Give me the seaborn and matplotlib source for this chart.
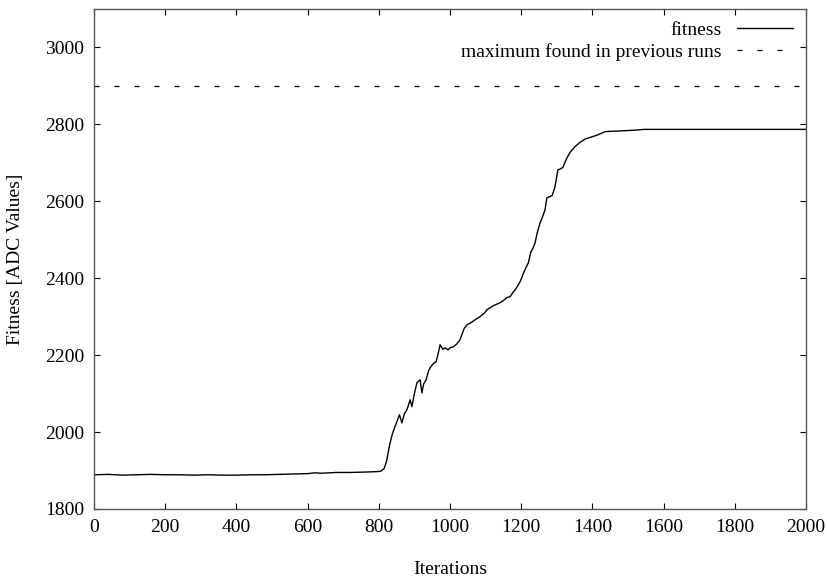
import numpy as np
import pandas as pd
import seaborn as sns
import matplotlib
matplotlib.use('Agg')
import matplotlib.pyplot as plt

# values
iterations = [0, 40, 80, 120, 160, 200, 240, 280, 320, 360, 400, 440, 480, 520,
              560, 600, 620, 640, 680, 720, 760, 790, 805, 815, 822, 830, 838,
              845, 852, 858, 865, 872, 879, 884, 888, 893, 900, 907, 916, 921,
              926, 933, 940, 944, 953, 961, 967, 972, 980, 986, 995, 1000, 1010,
              1020, 1028, 1040, 1048, 1060, 1072, 1084, 1095, 1104, 1112, 1125,
              1140, 1150, 1160, 1169, 1176, 1183, 1190, 1197, 1205, 1212, 1220,
              1227, 1233, 1239, 1245, 1253, 1260, 1267, 1272, 1280, 1287, 1295,
              1303, 1310, 1317, 1327, 1337, 1351, 1365, 1380, 1393, 1410, 1421,
              1435, 1450, 1478, 1520, 1545, 1600, 1800, 2000]
fitness = [1889, 1890, 1888, 1889, 1890, 1889, 1889, 1888, 1889, 1888, 1888,
           1889, 1889, 1890, 1891, 1892, 1894, 1893, 1895, 1895, 1896, 1897,
           1898, 1905, 1925, 1965, 1995, 2013, 2030, 2045, 2024, 2048, 2058,
           2072, 2084, 2066, 2100, 2128, 2136, 2102, 2125, 2136, 2160, 2167,
           2178, 2183, 2205, 2227, 2215, 2219, 2214, 2219, 2222, 2230, 2240,
           2270, 2279, 2285, 2293, 2300, 2308, 2318, 2323, 2330, 2336, 2342,
           2350, 2352, 2362, 2370, 2380, 2391, 2410, 2425, 2440, 2468, 2478,
           2492, 2518, 2544, 2560, 2578, 2609, 2612, 2615, 2638, 2682, 2684,
           2688, 2710, 2727, 2742, 2753, 2762, 2766, 2771, 2775, 2781, 2782,
           2783, 2785, 2787, 2787, 2787, 2787]
previous_max = 2900
x_ticks = [0, 200, 400, 600, 800, 1000, 1200, 1400, 1600, 1800, 2000]
y_ticks = [1800, 2000, 2200, 2400, 2600, 2800, 3000]

sns.set_theme(style='ticks')
plt.rcParams['font.family'] = ['Liberation Serif', 'DejaVu Serif']
plt.rcParams['xtick.direction'] = 'in'
plt.rcParams['ytick.direction'] = 'in'
plt.rcParams['text.color'] = 'black'
plt.rcParams['axes.labelcolor'] = 'black'
plt.rcParams['xtick.labelcolor'] = 'black'
plt.rcParams['ytick.labelcolor'] = 'black'

df = pd.DataFrame({'Iterations': iterations, 'Fitness': fitness})

fig = plt.figure(figsize=(8.28, 5.79), dpi=100)
ax = fig.add_axes([94 / 828, 1 - 509 / 579, 712 / 828, 500 / 579])

sns.lineplot(data=df, x='Iterations', y='Fitness', ax=ax, color='black',
             linewidth=1.0, label='fitness')
ax.plot([0, 2000], [previous_max, previous_max], color='black', linewidth=0.9,
        linestyle=(0, (4, 12)), label='maximum found in previous runs')

ax.set_xlim(0, 2000)
ax.set_ylim(1800, 3100)
ax.set_xticks(x_ticks)
ax.set_yticks(y_ticks)
ax.tick_params(axis='both', which='both', top=True, right=True, length=4,
               width=0.8, labelsize=14, pad=7, color='black',
               labelcolor='black')
for sp in ax.spines.values():
    sp.set_visible(True)
    sp.set_color('#555555')
    sp.set_linewidth(1.0)

ax.set_xlabel('Iterations', fontsize=14, labelpad=18)
ax.set_ylabel('Fitness [ADC Values]', fontsize=14, labelpad=15)

ax.legend(loc='upper right', frameon=False, markerfirst=False, fontsize=14,
          handlelength=2.9, borderaxespad=0.25, labelspacing=0.2)

fig.savefig('out.png', dpi=100)
